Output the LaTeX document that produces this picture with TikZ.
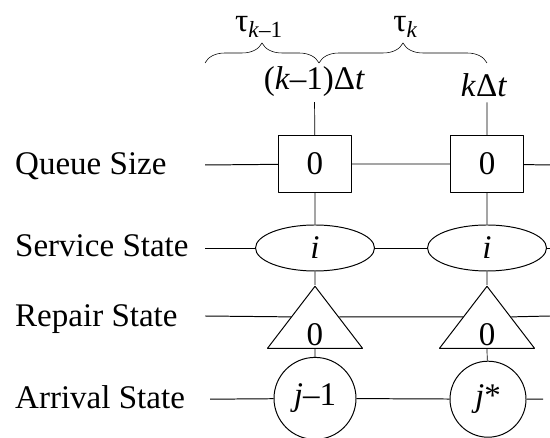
\documentclass[tikz,border=0pt]{standalone}
\usepackage{fontspec}
\setmainfont{LiberationSerif}[Extension=.ttf, UprightFont=*-Regular, ItalicFont=*-Italic,
	BoldFont=*-Bold, BoldItalicFont=*-BoldItalic]
\usetikzlibrary{shapes.geometric,decorations.pathreplacing}

\begin{document}
\begin{tikzpicture}[line width=.7pt, line join=round, font=\fontsize{23.5}{28}\selectfont,
	qbox/.style={draw, minimum width=1.825cm, minimum height=1.425cm, inner sep=0pt},
	sstate/.style={draw, ellipse, minimum width=2.975cm, minimum height=1.15cm, inner sep=0pt},
	rstate/.style={draw, isosceles triangle, shape border rotate=90, isosceles triangle stretches,
		minimum width=2.375cm, minimum height=1.55cm, inner sep=0pt, anchor=apex},
	astate/.style={draw, circle, inner sep=0pt},
	tbrace/.style={decorate, decoration={brace, amplitude=.5cm}, line width=.4pt},
	rowlabel/.style={anchor=base west},
	vline/.style={line width=.5pt}]
	\useasboundingbox (0,0) rectangle (13.75,10.95);
	% braces and time marks
	\path
	(5.125,9.375)coordinate (b0)
	(7.975,9.375)coordinate (b1)
	(12.175,9.375)coordinate (b2)
	(6.475,10.15)node[anchor=base] (tau1) {τ\textsubscript{\textit{k}–1}}
	(10.14,10.15)node[anchor=base] (tau2) {τ\textsubscript{\textit{k}}}
	(7.86,8.7)node[anchor=base] (t1) {(\textit{k}–1)Δ\textit{t}}
	(12.1,8.525)node[anchor=base] (t2) {\textit{k}Δ\textit{t}}
	;
	\draw[tbrace] (b0) -- (b1);
	\draw[tbrace] (b1) -- (b2);
	% row labels
	\node[rowlabel] (lq) at (0.25,6.575) {Queue Size};
	\node[rowlabel] (ls) at (0.25,4.525) {Service State};
	\node[rowlabel] (lr) at (0.25,2.775) {Repair State};
	\node[rowlabel] (la) at (0.25,0.725) {Arrival State};
	% line ends
	\path
	(5.125,6.825)coordinate (q0) (13.75,6.825)coordinate (qe)
	(5.125,4.75)coordinate (s0) (13.75,4.75)coordinate (se)
	(5.125,3.05)coordinate (r0) (13.75,3.05)coordinate (re)
	(5.25,0.97)coordinate (a0) (13.575,0.97)coordinate (ae)
	;
	% states at (k-1)dt and k dt
	\node[qbox] (q1) at (7.875,6.85) {0};
	\node[qbox] (q2) at (12.175,6.85) {0};
	\node[sstate] (s1) at (7.875,4.75) {\textit{i}};
	\node[sstate] (s2) at (12.175,4.75) {\textit{i}};
	\node[rstate] (r1) at (7.875,3.825) {};
	\node[rstate] (r2) at (12.175,3.825) {};
	\node (z1) at (7.875,2.575) {0};
	\node (z2) at (12.175,2.575) {0};
	\node[astate, minimum size=2.05cm] (a1) at (7.875,0.99) {\textit{j}–1};
	\node[astate, minimum size=1.9cm] (a2) at (12.2,0.97) {\textit{j}*};
	% horizontal lines
	\draw (q0) -- (q1) -- (q2) -- (qe);
	\draw (s0) -- (s1) -- (s2) -- (se);
	\draw (r0) -- (r1.left side) (r1.right side) -- (r2.left side) (r2.right side) -- (re);
	\draw (a0) -- (a1) -- (a2) -- (ae);
	% vertical lines
	\draw[vline] (t1) -- (q1) -- (s1) -- (r1.apex) (r1.lower side) -- (a1);
	\draw[vline] (q2 |- t2.south) -- (q2) -- (s2) -- (r2.apex) (r2.lower side) -- (a2);
\end{tikzpicture}
\end{document}
